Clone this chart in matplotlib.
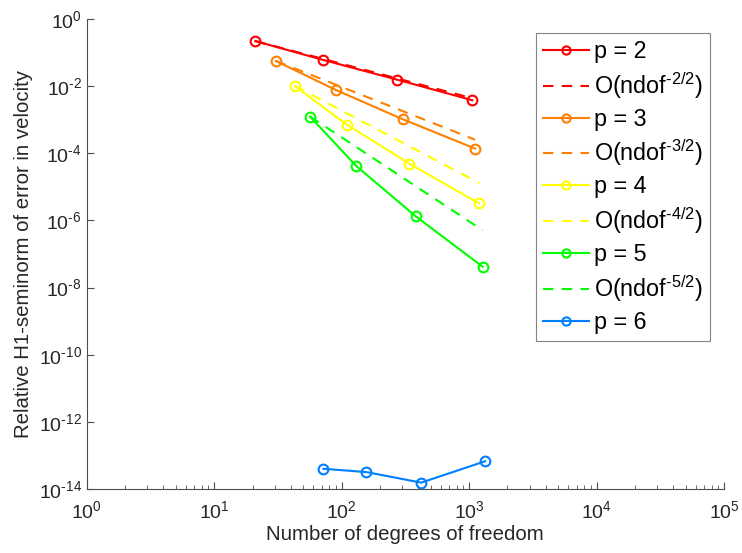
import matplotlib
matplotlib.use("Agg")
import matplotlib.pyplot as plt
from matplotlib.ticker import LogLocator, FixedLocator, NullFormatter
import numpy as np

plt.rcParams['font.family'] = ['Liberation Sans', 'DejaVu Sans']
plt.rcParams['mathtext.fontset'] = 'custom'
plt.rcParams['mathtext.rm'] = 'Liberation Sans'
plt.rcParams['mathtext.it'] = 'Liberation Sans'
plt.rcParams['mathtext.default'] = 'regular'

# Polynomial degrees and their colours
degrees = [2, 3, 4, 5, 6]
colors = ['#ff0000', '#ff8000', '#ffff00', '#00ff00', '#0080ff']

# Number of degrees of freedom per refinement level
ndof_p2 = [21, 72, 272, 1060]
ndof_p3 = [30.5, 90, 302, 1115]
ndof_p4 = [43, 110, 340, 1200]
ndof_p5 = [56.5, 130, 380, 1275]
ndof_p6 = [72, 156, 421, 1335]

# Relative H1-seminorm of the velocity error
err_p2 = [0.22, 0.060, 0.0156, 0.0038]
err_p3 = [0.056, 0.0077, 0.00103, 0.000138]
err_p4 = [0.0101, 7.1e-4, 4.9e-5, 3.2e-6]
err_p5 = [1.24e-3, 4.2e-5, 1.34e-6, 4.2e-8]
err_p6 = [4.0e-14, 3.2e-14, 1.55e-14, 6.7e-14]

ndofs = [ndof_p2, ndof_p3, ndof_p4, ndof_p5, ndof_p6]
errs = [err_p2, err_p3, err_p4, err_p5, err_p6]


def sup(k):
    # power-of-ten label with a short hyphen for negative exponents
    s = str(k).replace('-', r'\text{-}')
    return f'$10^{{{s}}}$'


fig = plt.figure(figsize=(7.42, 5.53), dpi=100)
ax = fig.add_axes([0.1168, 0.1157, 0.859, 0.850])

for p, c, x, y in zip(degrees, colors, ndofs, errs):
    x = np.asarray(x, dtype=float)
    y = np.asarray(y, dtype=float)
    ax.loglog(x, y, '-o', color=c, lw=1.5, ms=7, mfc='none', mew=1.5,
              label=f'p = {p}')
    if p <= 5:
        # expected rate O(ndof^{-p/2}) anchored at the coarsest level
        ref = y[0] * (x / x[0]) ** (-p / 2)
        ax.loglog(x, ref, '--', color=c, lw=1.5, dashes=(5, 4),
                  label=f'O(ndof$^{{\\text{{-}}{p}/2}}$)')

ax.set_xlim(1, 1e5)
ax.set_ylim(1e-14, 1)

ax.xaxis.set_major_locator(FixedLocator([10.0 ** k for k in range(0, 6)]))
ax.xaxis.set_minor_locator(LogLocator(base=10, subs=np.arange(2, 10), numticks=20))
ax.xaxis.set_minor_formatter(NullFormatter())
ax.set_xticklabels([sup(k) for k in range(0, 6)])

yk = list(range(0, -15, -2))
ax.yaxis.set_major_locator(FixedLocator([10.0 ** k for k in yk]))
ax.yaxis.set_minor_locator(FixedLocator([]))
ax.set_yticklabels([sup(k) for k in yk])

for s in ['top', 'right']:
    ax.spines[s].set_visible(False)
for s in ['left', 'bottom']:
    ax.spines[s].set_color('#4d4d4d')
    ax.spines[s].set_linewidth(0.8)
ax.tick_params(which='both', direction='in', colors='#4d4d4d', labelcolor='#262626',
               labelsize=14)
ax.tick_params(which='major', length=5, width=0.8)
ax.tick_params(which='minor', length=3, width=0.6)
ax.tick_params(axis='x', pad=8)

ax.set_xlabel('Number of degrees of freedom', fontsize=14.7, color='#262626',
              labelpad=2)
ax.set_ylabel('Relative H1-seminorm of error in velocity', fontsize=14.7,
              color='#262626', labelpad=4)

leg = ax.legend(loc='upper right', bbox_to_anchor=(0.978, 0.970), fontsize=16.8,
                frameon=True, fancybox=False, labelspacing=0.3, handlelength=2.0,
                handletextpad=0.2, borderpad=0.3, borderaxespad=0, markerscale=0.85)
leg.get_frame().set_edgecolor('#666666')
leg.get_frame().set_linewidth(0.8)

fig.savefig('out.png', dpi=100)
